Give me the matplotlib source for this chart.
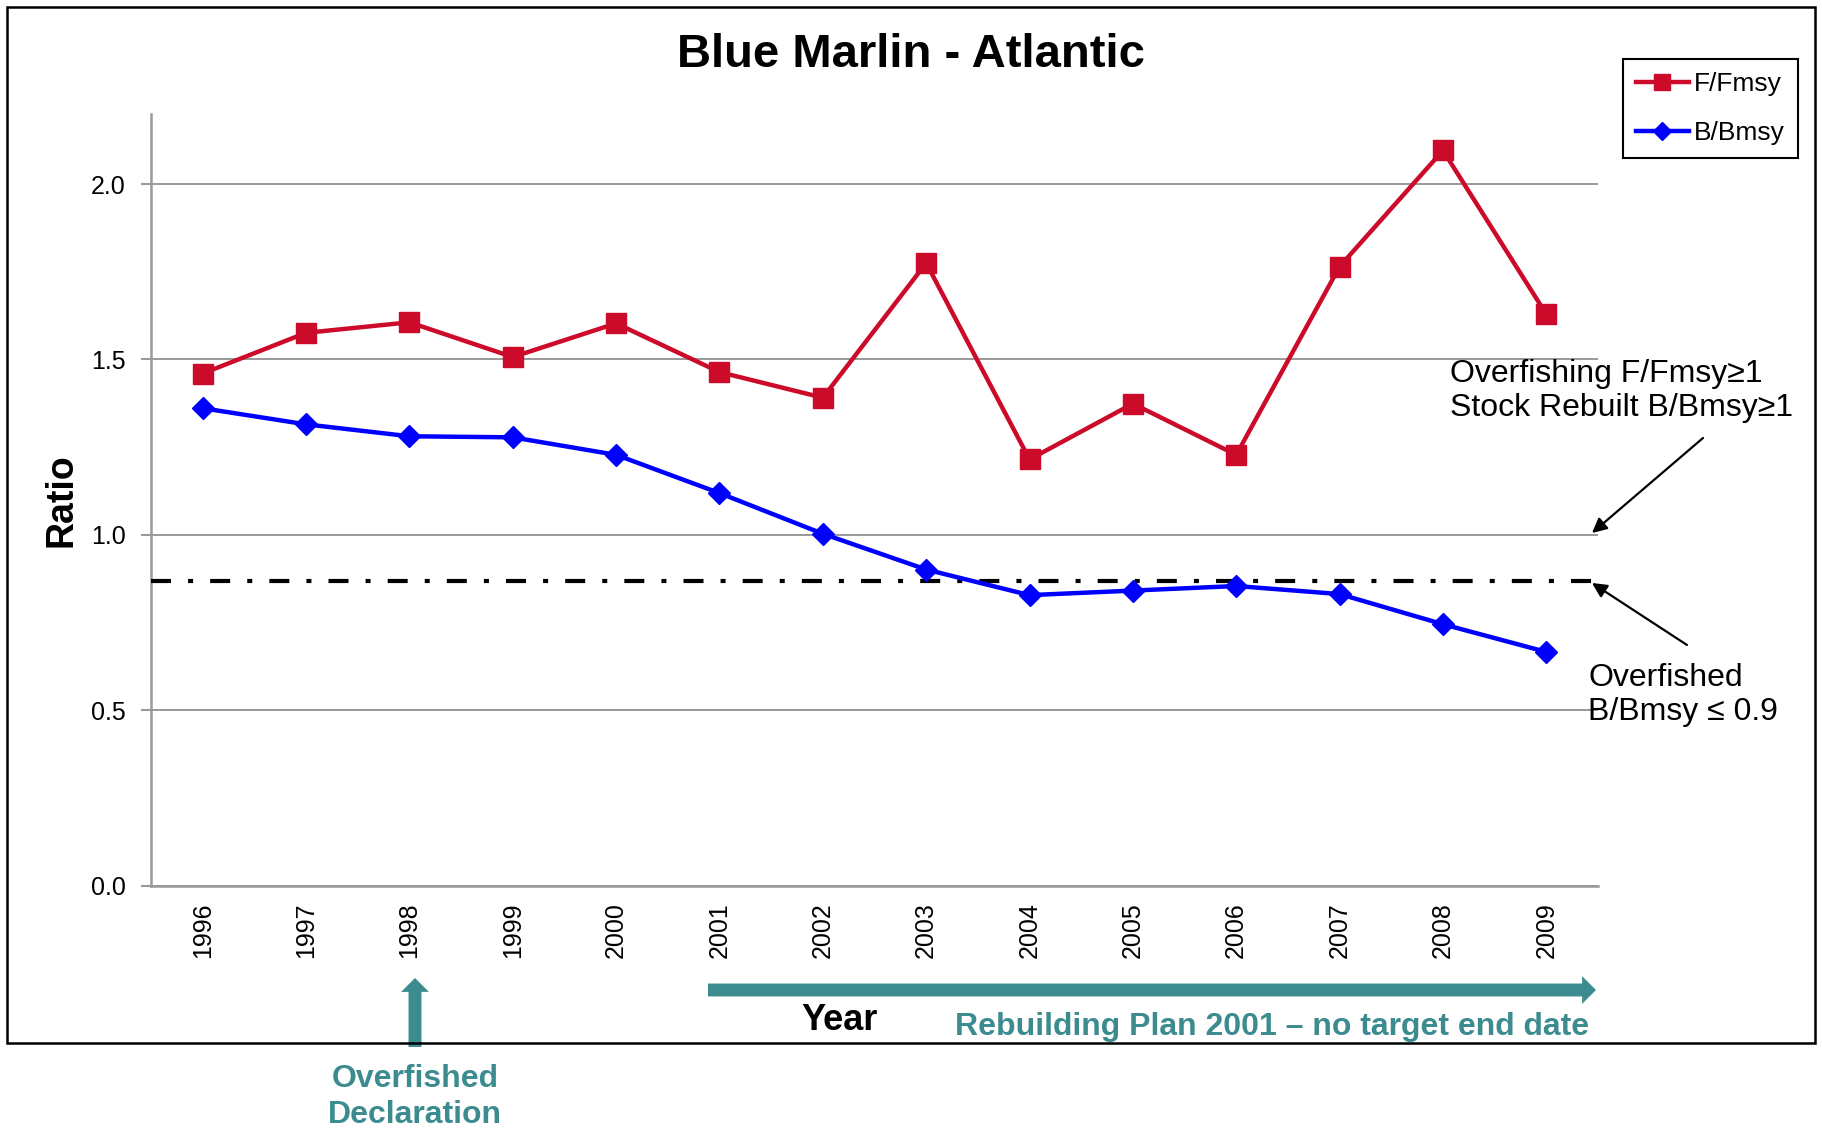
import numpy as np
import matplotlib
matplotlib.use("Agg")
import matplotlib.pyplot as plt
from matplotlib.patches import Rectangle

plt.rcParams['font.family'] = ['Liberation Sans', 'DejaVu Sans']

# ===== 数据 =====
years = ["1996", "1997", "1998", "1999", "2000", "2001", "2002",
         "2003", "2004", "2005", "2006", "2007", "2008", "2009"]
f_fmsy = [1.46, 1.576, 1.606, 1.507, 1.603, 1.464, 1.391,
          1.775, 1.215, 1.374, 1.228, 1.765, 2.096, 1.629]
b_bmsy = [1.361, 1.315, 1.281, 1.278, 1.228, 1.119, 1.003,
          0.901, 0.828, 0.841, 0.854, 0.831, 0.745, 0.666]
overfished_ref = 0.868
y_ticks = [0.0, 0.5, 1.0, 1.5, 2.0]

W, H = 1822, 1130
RED = "#CC0A2A"
BLUE = "#0000FF"
TEAL = "#3C8C8F"
GRID = "#999999"


def fx(px):
    return px / W


def fy(py):
    return 1 - py / H


fig = plt.figure(figsize=(W / 100, H / 100), dpi=100)
ax = fig.add_axes([fx(151), fy(885.5), (1598 - 151) / W, (885.5 - 114) / H])

x = np.arange(len(years))
ax.plot(x, f_fmsy, color=RED, lw=3.2, marker="s", ms=14, label="F/Fmsy", zorder=4)
ax.plot(x, b_bmsy, color=BLUE, lw=3.2, marker="D", ms=11, label="B/Bmsy", zorder=4)
ax.axhline(overfished_ref, color="black", lw=3, dashes=(4.8, 4.1, 1.2, 4.1), zorder=3)

ax.set_xlim(-0.5, len(years) - 0.5)
ax.set_ylim(0, 2.2)
ax.set_yticks(y_ticks)
ax.set_yticklabels([f"{v:.1f}" for v in y_ticks], fontsize=18)
ax.set_xticks(x)
ax.set_xticklabels(years, rotation=90, fontsize=18)
ax.tick_params(axis="x", which="major", length=0, pad=12)
ax.tick_params(axis="y", length=7, color=GRID, width=1.5, pad=11)
ax.grid(axis="y", color=GRID, lw=1.4)
ax.set_axisbelow(True)
for s in ["top", "right"]:
    ax.spines[s].set_visible(False)
for s in ["left", "bottom"]:
    ax.spines[s].set_color(GRID)
    ax.spines[s].set_linewidth(1.8)

# 外框
fig.patches.append(Rectangle((fx(7), fy(1043)), (1815 - 7) / W, (1043 - 7) / H,
                             transform=fig.transFigure, fill=False, lw=1.8,
                             ec="black"))

# 标题与坐标轴标签
fig.text(fx(911), fy(55), "Blue Marlin - Atlantic", fontsize=34,
         fontweight="bold", ha="center", va="center")
fig.text(fx(62), fy(500), "Ratio", fontsize=27, fontweight="bold",
         rotation=90, ha="center", va="center")
fig.text(fx(840), fy(1021), "Year", fontsize=26, fontweight="bold",
         ha="center", va="center")

# 图例
fig.legend(loc="upper right", bbox_to_anchor=(fx(1798), fy(59)),
           borderaxespad=0, fancybox=False, edgecolor="black",
           fontsize=19, handlelength=2.0, markerscale=0.8,
           borderpad=0.5, labelspacing=0.95, handletextpad=0.2,
           framealpha=1).get_frame().set_linewidth(1.5)

# 参考线说明
fig.text(fx(1450), fy(391), "Overfishing F/Fmsy\u22651\nStock Rebuilt B/Bmsy\u22651",
         fontsize=23, ha="left", va="center", linespacing=1.18)
fig.text(fx(1588), fy(695), "Overfished\nB/Bmsy \u2264 0.9",
         fontsize=23, ha="left", va="center", linespacing=1.18)
arrow_kw = dict(arrowstyle="-|>", color="black", lw=1.6, mutation_scale=22,
                shrinkA=0, shrinkB=0)
ax.annotate("", xy=(fx(1592), fy(533)), xytext=(fx(1703), fy(438)),
            xycoords="figure fraction", textcoords="figure fraction",
            arrowprops=arrow_kw, annotation_clip=False)
ax.annotate("", xy=(fx(1592), fy(583)), xytext=(fx(1687), fy(645)),
            xycoords="figure fraction", textcoords="figure fraction",
            arrowprops=arrow_kw, annotation_clip=False)

# 重建计划 / 过度捕捞声明
teal_kw = dict(arrowstyle="simple,head_length=1.0,head_width=2.0,tail_width=0.93",
               color=TEAL, mutation_scale=10, shrinkA=0, shrinkB=0, lw=0)
ax.annotate("", xy=(fx(1596), fy(990)), xytext=(fx(708), fy(990)),
            xycoords="figure fraction", textcoords="figure fraction",
            arrowprops=teal_kw, annotation_clip=False)
ax.annotate("", xy=(fx(415), fy(978)), xytext=(fx(415), fy(1047)),
            xycoords="figure fraction", textcoords="figure fraction",
            arrowprops=teal_kw, annotation_clip=False)
fig.text(fx(1589), fy(1027), "Rebuilding Plan 2001 \u2013 no target end date",
         fontsize=23, fontweight="bold", color=TEAL, ha="right", va="center")
fig.text(fx(415), fy(1097), "Overfished\nDeclaration", fontsize=23,
         fontweight="bold", color=TEAL, ha="center", va="center",
         linespacing=1.25)

fig.savefig("out.png", dpi=100)
